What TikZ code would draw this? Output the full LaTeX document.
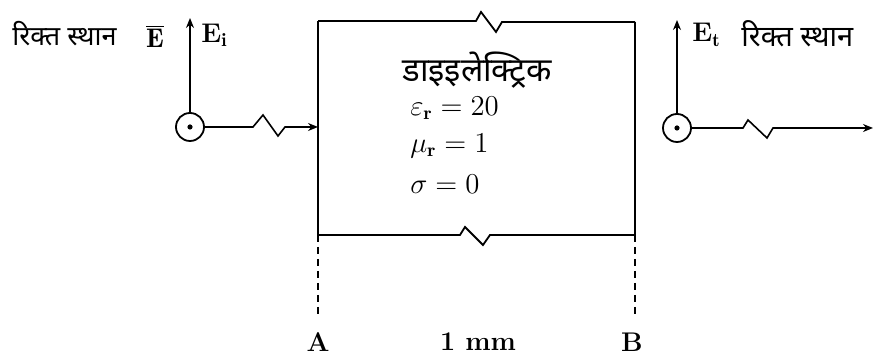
\documentclass[tikz,border=0pt]{standalone}
\usepackage{fontspec}
\newfontfamily\hindi[Script=Devanagari]{Noto Sans}
\usetikzlibrary{arrows.meta}
\begin{document}
\begin{tikzpicture}[x=0.5pt,y=-0.5pt,
  boxline/.style={line width=0.9pt},
  arr/.style={line width=0.8pt,-{Stealth[length=5pt,width=4pt]}},
  dotcirc/.style={circle,draw,line width=0.9pt,minimum size=14pt,inner sep=0pt},
  dashline/.style={line width=1pt,dash pattern=on 3.5pt off 2.5pt},
  lbl/.style={font=\fontsize{13.5}{16}\selectfont\bfseries,inner sep=0pt},
  txt/.style={font=\fontsize{13.5}{16}\selectfont,inner sep=0pt,anchor=west},
  hin/.style={font=\hindi\fontsize{13.5}{16}\selectfont\bfseries,inner sep=0pt}]
\useasboundingbox (0,0) rectangle (874,356);

% box corners
\coordinate (tl) at (318,21);
\coordinate (tr) at (635,22);
\coordinate (bl) at (318,235);
\coordinate (br) at (635,235);
\coordinate (inL) at (318,127);
\coordinate (dA) at (318,318);
\coordinate (dB) at (635,318);

\draw[boxline] (tl) -- (bl);
\draw[boxline] (tr) -- (br);
\draw[boxline] (tl) -- (476,21) -- (481,12) -- (496,32) -- (502,22) -- (tr);
\draw[boxline] (bl) -- (460,235) -- (465,227) -- (483,245) -- (490,235) -- (br);
\draw[dashline] (bl) -- (dA);
\draw[dashline] (br) -- (dB);

% left wave
\node[dotcirc] (c1) at (190,127) {};
\fill (c1) circle (1.3pt);
\coordinate (c1top) at (190,18);
\draw[arr] (c1) -- (c1top);
\draw[arr] (c1) -- (253,127) -- (263,115) -- (278,136) -- (285,127) -- (inL);

% right wave
\node[dotcirc] (c2) at (677,128) {};
\fill (c2) circle (1.3pt);
\coordinate (c2top) at (677,20);
\coordinate (out) at (873,128);
\draw[arr] (c2) -- (c2top);
\draw[arr] (c2) -- (743,128) -- (748,120) -- (767,138) -- (773,128) -- (out);

% top labels
\node[hin,anchor=west] (fsL) at (12,34) {रिक्त स्थान};
\node[lbl] (Ebar) at (155,36) {$\overline{\mathbf{E}}$};
\node[lbl,anchor=west] (Ei) at (201,35) {E$_{\mathbf i}$};
\node[lbl,anchor=west] (Et) at (692,35) {E$_{\mathbf t}$};
\node[hin,anchor=west,font=\hindi\fontsize{14.5}{17}\selectfont] (fsR) at (741,34) {रिक्त स्थान};

% box text
\node[hin,anchor=west,font=\hindi\fontsize{16.5}{19}\selectfont] (diel) at (402,70) {डाइइलेक्ट्रिक};
\node[txt] (eps) at (410,108) {$\varepsilon_{\mathbf r} = 20$};
\node[txt] (mu) at (410,146) {$\mu_{\mathbf r} = 1$};
\node[txt] (sig) at (410,184) {$\sigma = 0$};

% bottom labels
\node[lbl] (A) at (318,342) {A};
\node[lbl] (mm) at (478,342) {1 mm};
\node[lbl] (B) at (632,342) {B};
\end{tikzpicture}
\end{document}
